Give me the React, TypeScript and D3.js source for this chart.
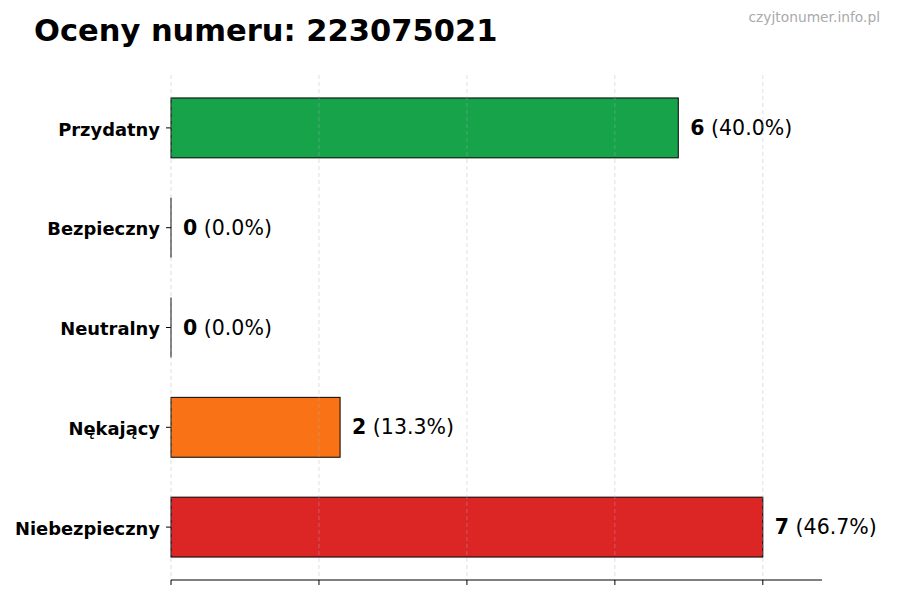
import React from "react";
import * as d3 from "d3";

const categories = ["Przydatny", "Bezpieczny", "Neutralny", "Nękający", "Niebezpieczny"];
const counts = [6, 0, 0, 2, 7];
const percents = ["40.0%", "0.0%", "0.0%", "13.3%", "46.7%"];
const colors = ["#16a34a", "#16a34a", "#9ca3af", "#f97316", "#dc2626"];
const xTicks = [0, 1.75, 3.5, 5.25, 7];

const W = 900;
const H = 600;
const left = 171;
const right = 822;
const top = 75;
const bottom = 580;
const FONT = "DejaVu Sans, Verdana, sans-serif";

export default function App() {
  const maxV = d3.max(counts) as number;
  const x = d3.scaleLinear().domain([0, maxV * 1.1]).range([left, right]);
  const y = d3.scaleLinear().domain([-0.53, categories.length - 1 + 0.53]).range([top, bottom]);
  const barH = y(0.3) - y(-0.3);

  return (
    <svg width={W} height={H} style={{ position: "absolute", left: 0, top: 0, background: "#fff" }} fontFamily={FONT}>
      <rect x={0} y={0} width={W} height={H} fill="#fff" />
      <text x={34} y={41} fontSize={30.5} fontWeight="bold" fill="#000">Oceny numeru: 223075021</text>
      <text x={880} y={22} fontSize={13.8} fill="#aaaaaa" textAnchor="end">czyjtonumer.info.pl</text>

      {categories.map((c, i) => {
        const v = counts[i];
        const cy = y(i);
        const w = x(v) - x(0);
        return (
          <g key={c}>
            {v > 0 ? (
              <rect x={x(0)} y={cy - barH / 2} width={w} height={barH} fill={colors[i]} stroke="#000" strokeWidth={1} />
            ) : (
              <line x1={x(0)} x2={x(0)} y1={cy - barH / 2} y2={cy + barH / 2} stroke="#000" strokeWidth={1} />
            )}
            <line x1={x(0) - 5} x2={x(0)} y1={cy} y2={cy} stroke="#000" strokeWidth={1} />
            <text x={x(0) - 11} y={cy + 1.5} dy="0.35em" textAnchor="end" fontSize={17.9} fontWeight="bold" fill="#000">{c}</text>
            <text x={x(v) + 12} y={cy} dy="0.35em" fontSize={20.5} fill="#000">
              <tspan fontWeight="bold">{v}</tspan>
              <tspan> ({percents[i]})</tspan>
            </text>
          </g>
        );
      })}

      {xTicks.map((t) => (
        <g key={t}>
          <line x1={x(t)} x2={x(t)} y1={top} y2={bottom} stroke="#b0b0b0" strokeOpacity={0.5} strokeDasharray="4,3" strokeWidth={0.8} />
          <line x1={x(t)} x2={x(t)} y1={bottom} y2={bottom + 5} stroke="#000" strokeWidth={1} />
        </g>
      ))}
      <line x1={left} x2={right} y1={bottom} y2={bottom} stroke="#000" strokeWidth={1} />
    </svg>
  );
}
